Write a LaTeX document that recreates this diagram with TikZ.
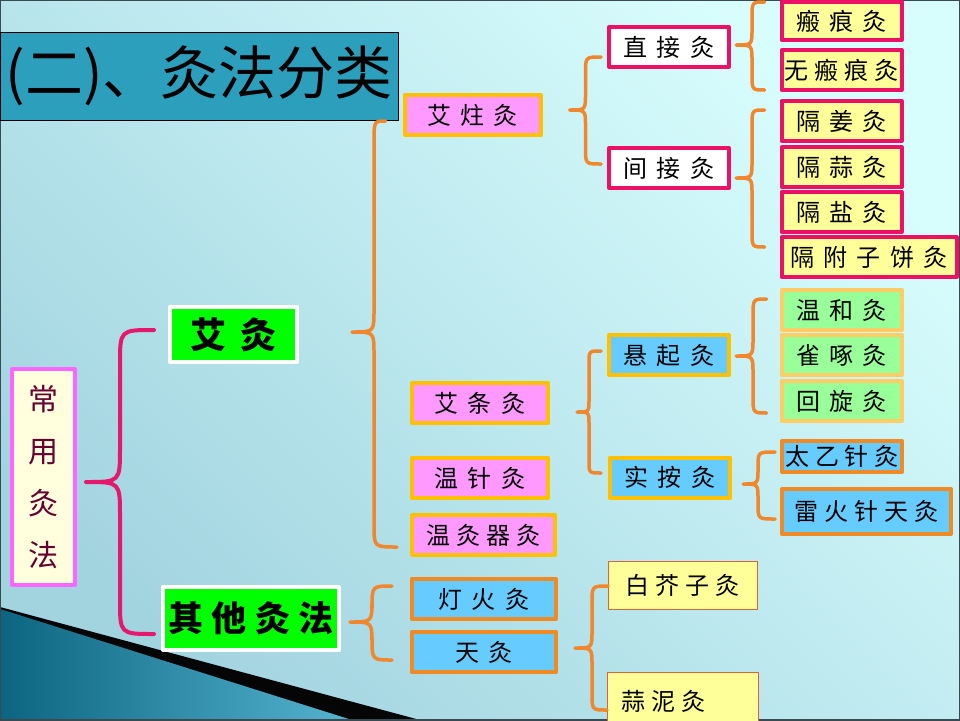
\documentclass[tikz,border=0pt]{standalone}
\usepackage{fontspec}
\newfontfamily\cjk{Noto Sans CJK SC}
\newfontfamily\cjkwide[LetterSpace=38]{Noto Sans CJK SC}
\newfontfamily\cjkmid[LetterSpace=24]{Noto Sans CJK SC}
\usetikzlibrary{positioning,calc}

\definecolor{bgLight}{HTML}{D8FDFD}
\definecolor{bgDark}{HTML}{A2D4E0}
\definecolor{frameGray}{HTML}{3A4A52}
\definecolor{tealDark}{HTML}{0C6580}
\definecolor{tealLight}{HTML}{55B4D0}
\definecolor{shadowBlack}{HTML}{050505}
\definecolor{titleBlue}{HTML}{2C9FBC}
\definecolor{bracePink}{HTML}{E6186E}
\definecolor{braceOrange}{HTML}{F2862C}
\definecolor{gold}{HTML}{FFC000}
\definecolor{orchid}{HTML}{FF99FF}
\definecolor{rose}{HTML}{EC1164}
\definecolor{leafYellow}{HTML}{FFFF99}
\definecolor{skyBlue}{HTML}{66CCFF}
\definecolor{paleGreen}{HTML}{99FF99}
\definecolor{paleOrange}{HTML}{FFCC66}
\definecolor{deepOrange}{HTML}{F08A24}
\definecolor{rust}{HTML}{E0603C}
\definecolor{neonGreen}{HTML}{00FF00}
\definecolor{creamFill}{HTML}{FFFFDD}
\definecolor{lilac}{HTML}{FF66FF}
\definecolor{wine}{HTML}{660033}

% curly bracket: style, tip, top end, bottom end, bend
\newcommand{\curly}[5]{%
  \draw[#1] let \p1=(#2), \p2=(#3), \p3=(#4), \n1={\x1+#5} in
    (\p2) .. controls (\n1,\y2) .. (\n1,\y2-#5)
    -- (\n1,\y1+#5) .. controls (\n1,\y1) .. (\p1)
    .. controls (\n1,\y1) .. (\n1,\y1-#5)
    -- (\n1,\y3+#5) .. controls (\n1,\y3) .. (\p3);}

\tikzset{
  box/.style={
    draw,
    line width=4pt,
    inner sep=0pt,
    outer sep=0pt,
    minimum width=120pt,
    minimum height=40pt,
    font=\fontsize{24pt}{26pt}\cjkwide
  },
  narrow/.style={font=\fontsize{24pt}{26pt}\cjkmid},
  headbox/.style={box, draw=white, fill=neonGreen},
  mugwort/.style={box, draw=gold, fill=orchid, minimum width=136pt},
  direct/.style={box, draw=rose, fill=white},
  leaf/.style={box, draw=rose, fill=leafYellow},
  hover/.style={box, draw=gold, fill=skyBlue},
  meadow/.style={box, draw=paleOrange, fill=paleGreen},
  needle/.style={box, draw=deepOrange, fill=skyBlue},
  lamp/.style={box, draw=deepOrange, fill=skyBlue, minimum width=144pt},
  paste/.style={box, line width=1pt, draw=rust, fill=leafYellow,
    minimum width=149pt, minimum height=48pt, narrow},
  pinkbrace/.style={draw=bracePink, line width=4pt},
  orangebrace/.style={draw=braceOrange, line width=3.5pt}
}

\begin{document}
\begin{tikzpicture}[x=1pt, y=-1pt, line cap=round, line join=round]
  \useasboundingbox (0,0) rectangle (960,720);
  \clip (0,0) rectangle (960,720);

  % slide background
  \shade[bottom color=bgDark, top color=bgLight, shading angle=-45] (0,0) rectangle (960,720);
  \fill[shadowBlack] (0,607) -- (420,720) -- (0,720) -- cycle;
  \shade[left color=tealDark, right color=tealLight] (0,609) -- (352,720) -- (0,720) -- cycle;
  \draw[frameGray, line width=2pt] (0,0) rectangle (960,720);

  \node[draw=black, line width=1pt, fill=titleBlue, inner sep=0pt,
    minimum width=398pt, minimum height=88pt, font=\fontsize{58pt}{60pt}\cjk]
    (title) at (199,76) {(二)、灸法分类};

  % root and first level
  \node[box, draw=lilac, fill=creamFill, minimum width=63pt, minimum height=216pt,
    align=center, text=wine, font=\fontsize{30pt}{52pt}\cjk]
    (changyong) at (43.5,477) {常\\用\\灸\\法};
  \node[headbox, minimum width=127pt, minimum height=55pt,
    font=\fontsize{36pt}{38pt}\bfseries\cjkwide] (aijiu) at (233.5,334.5) {艾灸};
  \node[headbox, minimum width=176pt, minimum height=63pt,
    font=\fontsize{35pt}{38pt}\bfseries\cjkmid] (qita) at (251,618.5) {其他灸法};

  % moxa kinds
  \node[mugwort] (aizhu) at (472.5,115) {艾炷灸};
  \node[mugwort] (aitiao) at (480,403) {艾条灸};
  \node[mugwort, below=35pt of aitiao] (wenzhen) {温针灸};
  \node[mugwort, narrow, minimum width=143pt, below=17pt of wenzhen.south west,
    anchor=north west] (wenjiuqi) {温灸器灸};
  \node[lamp] (denghuo) at (484,599) {灯火灸};
  \node[lamp, below=13pt of denghuo] (tianjiu) {天灸};

  % moxa cone
  \node[direct] (zhijie) at (669,47) {直接灸};
  \node[direct] (jianjie) at (669,168) {间接灸};
  \node[leaf, minimum height=38pt] (banhen) at (841.5,21) {瘢痕灸};
  \node[leaf, narrow, below=10pt of banhen] (wubanhen) {无瘢痕灸};
  \node[leaf, below=11pt of wubanhen] (jiang) {隔姜灸};
  \node[leaf, below=6pt of jiang] (suan) {隔蒜灸};
  \node[leaf, below=5pt of suan] (yan) {隔盐灸};
  \node[leaf, minimum width=175pt, below=5pt of yan.south west,
    anchor=north west] (fuzi) {隔附子饼灸};

  % moxa stick
  \node[hover] (xuanqi) at (669,355) {悬起灸};
  \node[hover] (shian) at (670,477.5) {实按灸};
  \node[meadow] (wenhe) at (841.5,310) {温和灸};
  \node[meadow, below=5pt of wenhe] (quezhuo) {雀啄灸};
  \node[meadow, below=6pt of quezhuo] (huixuan) {回旋灸};
  \node[needle, narrow, minimum height=31pt] (taiyi) at (842,456.5) {太乙针灸};
  \node[needle, narrow, minimum width=169pt, minimum height=45pt,
    below=17pt of taiyi.south west, anchor=north west] (leihuo) {雷火针天灸};

  % natural moxa
  \node[paste] (baijiezi) at (682.5,585) {白芥子灸};
  \node[paste, minimum width=151pt, minimum height=58pt, text width=122pt,
    align=left, below=63pt of baijiezi] (suanni) {蒜泥灸};

  % brackets
  \curly{pinkbrace}{[xshift=11pt,yshift=-5pt]changyong.east}
    {[xshift=-16pt,yshift=4.5pt]aijiu.west}{[xshift=-9pt,yshift=-15.5pt]qita.west}{34pt}
  \curly{orangebrace}{[xshift=55pt,yshift=2.5pt]aijiu.east}
    {[xshift=-19pt,yshift=-6pt]aizhu.west}{[xshift=-15pt,yshift=-12pt]wenjiuqi.west}{22pt}
  \curly{orangebrace}{[xshift=29pt,yshift=5pt]aizhu.east}
    {[xshift=-8pt,yshift=-10pt]zhijie.west}{[xshift=-8pt,yshift=4pt]jianjie.west}{16pt}
  \curly{orangebrace}{[xshift=7pt,yshift=2pt]zhijie.east}
    {[xshift=-17pt,yshift=19pt]banhen.west}{[xshift=-17pt,yshift=-20pt]wubanhen.west}{16pt}
  \curly{orangebrace}{[xshift=7pt,yshift=-10pt]jianjie.east}
    {[xshift=-17pt,yshift=11pt]jiang.west}{[xshift=-17pt,yshift=10pt]fuzi.west}{16pt}
  \curly{orangebrace}{[xshift=29pt,yshift=-9pt]aitiao.east}
    {[xshift=-8pt,yshift=4pt]xuanqi.west}{[xshift=-9pt,yshift=4.5pt]shian.west}{12pt}
  \curly{orangebrace}{[xshift=7pt,yshift=-1pt]xuanqi.east}
    {[xshift=-15pt,yshift=11pt]wenhe.west}{[xshift=-15pt,yshift=-12pt]huixuan.west}{17pt}
  \curly{orangebrace}{[xshift=13pt,yshift=-6.5pt]shian.east}
    {[xshift=-7pt,yshift=4.5pt]taiyi.west}{[xshift=-7pt,yshift=-7.5pt]leihuo.west}{15pt}
  \curly{orangebrace}{[xshift=11pt,yshift=-3.5pt]qita.east}
    {[xshift=-20pt,yshift=13pt]denghuo.west}{[xshift=-20pt,yshift=-8pt]tianjiu.west}{22pt}
  \curly{orangebrace}{[xshift=19pt,yshift=4pt]tianjiu.east}
    {[yshift=-1pt]baijiezi.west}{[yshift=-9pt]suanni.west}{17pt}
\end{tikzpicture}
\end{document}
